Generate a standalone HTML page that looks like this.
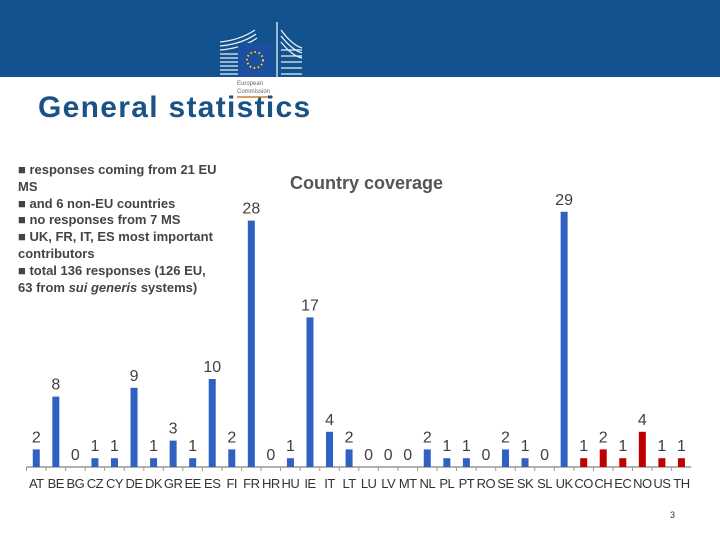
<!DOCTYPE html>
<html><head><meta charset="utf-8"><style>
body{margin:0;width:720px;height:540px;overflow:hidden;background:#fff;font-family:"Liberation Sans",sans-serif;position:relative}
#hdr{position:absolute;left:0;top:0;width:720px;height:77px;background:#12528f}
#title{position:absolute;left:38px;top:91px;font-size:30px;font-weight:bold;color:#1b5286;letter-spacing:1.3px}
#notes{position:absolute;left:18px;top:162px;width:205px;font-size:13px;font-weight:bold;color:#444;line-height:16.8px}
#ctitle{position:absolute;left:290px;top:173px;font-size:18px;font-weight:bold;color:#555}
#pg{position:absolute;left:670px;top:510px;font-size:9px;color:#333}
</style></head><body>
<div id="hdr"></div>
<svg style="position:absolute;left:0;top:0" width="720" height="110">
<g fill="none" stroke="#e8eef6" stroke-width="1.3">
<path d="M220 42 Q240 40 255 30"/><path d="M220 46 Q242 44 256 34"/><path d="M220 50 Q243 48 257 38"/><path d="M220 54 h18"/><path d="M220 58 h18"/><path d="M220 62 h18"/><path d="M220 66 h18"/><path d="M220 70 h18"/><path d="M220 74 h18"/>
<path d="M277 22 v55"/><path d="M281 30 Q292 45 302 48"/><path d="M281 36 Q292 50 302 53"/><path d="M281 42 Q292 56 302 58"/><path d="M281 50 h21"/><path d="M281 56 h21"/><path d="M281 62 h21"/><path d="M281 68 h21"/><path d="M281 74 h21"/>
</g>
<rect x="238" y="43" width="35" height="34" fill="#1d4fa0"/>
<circle cx="255" cy="60" r="8" fill="none" stroke="#f5d90a" stroke-width="2" stroke-dasharray="1.5 2.6"/>
<text x="237" y="85" font-size="6" fill="#666" font-family="Liberation Sans">European</text>
<text x="237" y="93" font-size="6" fill="#666" font-family="Liberation Sans">Commission</text>
<rect x="237" y="96" width="36" height="2" fill="#d9a064"/>
</svg>
<div id="title">General statistics</div>
<div id="notes">■ responses coming from 21 EU MS<br>■ and 6 non-EU countries<br>■ no responses from 7 MS<br>■ UK, FR, IT, ES most important contributors<br>■ total 136 responses (126 EU, 63 from <i>sui generis</i> systems)</div>
<div id="ctitle">Country coverage</div>
<svg id="chart" style="position:absolute;left:0;top:0" width="720" height="540"></svg>
<div id="pg">3</div>
<script>
const categories=["AT","BE","BG","CZ","CY","DE","DK","GR","EE","ES","FI","FR","HR","HU","IE","IT","LT","LU","LV","MT","NL","PL","PT","RO","SE","SK","SL","UK","CO","CH","EC","NO","US","TH"];
const values=[2,8,0,1,1,9,1,3,1,10,2,28,0,1,17,4,2,0,0,0,2,1,1,0,2,1,0,29,1,2,1,4,1,1];
const nonEU=["CO","CH","EC","NO","US","TH"];
const svg=document.getElementById('chart');const NS='http://www.w3.org/2000/svg';
const x0=26.5,step=19.55,base=467,unit=8.8;
const xc=i=>x0+step*(i+0.5);const y=v=>base-v*unit;
function mk(t,a){const e=document.createElementNS(NS,t);for(const k in a)e.setAttribute(k,a[k]);svg.appendChild(e);return e;}
const ax=mk('line',{x1:x0,x2:x0+step*categories.length,y1:base,y2:base,stroke:'#999','stroke-width':1.5});


categories.forEach((c,i)=>{
const tk=mk('line',{x1:x0+step*i,x2:x0+step*i,y1:base,y2:base+4,stroke:'#999'});


const red=nonEU.includes(c);
const b=mk('rect',{x:xc(i)-3.5,y:y(values[i]),width:7,height:values[i]*unit,fill:red?'#c00000':'#3060c0'});


const t=mk('text',{x:xc(i),y:y(values[i])-7,'text-anchor':'middle','font-size':16,fill:'#404040','font-family':'Liberation Sans'});
t.textContent=values[i];


const l=mk('text',{x:xc(i),y:base+21,'text-anchor':'middle','font-size':13,fill:'#333','font-family':'Liberation Sans','letter-spacing':'-0.5'});
l.textContent=c;


});
</script>
</body></html>
